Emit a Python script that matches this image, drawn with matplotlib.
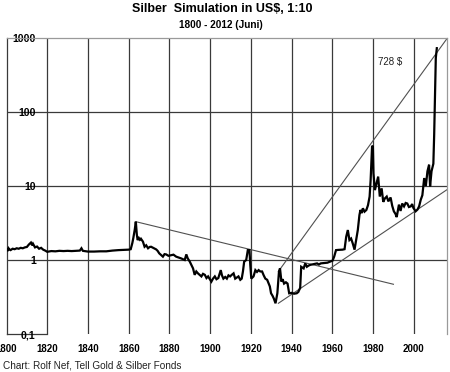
import matplotlib
matplotlib.use("Agg")
import matplotlib.pyplot as plt

plt.rcParams['font.family'] = ['Liberation Sans', 'DejaVu Sans']

# ---- data ----
years = [1800, 1800.5, 1801, 1801.5, 1802, 1803, 1804, 1805, 1806, 1807, 1808, 1809,
         1810, 1811, 1812, 1812.6, 1813, 1814, 1815, 1816, 1817, 1818, 1819, 1820,
         1822, 1824, 1826, 1828, 1830, 1832, 1834, 1836, 1836.8, 1837.5, 1840, 1843,
         1846, 1849, 1852, 1855, 1858, 1860, 1861, 1861.8, 1862.3, 1863, 1863.5,
         1864, 1864.4, 1865, 1865.5, 1866, 1867, 1867.8, 1868.6, 1869.5, 1870.3,
         1871, 1872.2, 1873.5, 1874.2, 1875, 1876.8, 1877.6, 1878.4, 1879.5, 1880.9,
         1882, 1883.3, 1884.5, 1885.8, 1887.5, 1888.3, 1889, 1890, 1891.6, 1892.4,
         1893.2, 1894, 1895.7, 1896.5, 1897.4, 1898.2, 1899, 1900.6, 1901.4, 1902.3,
         1903.1, 1904, 1905.2, 1905.8, 1906.5, 1907.4, 1908.2, 1909, 1909.8, 1910.6,
         1911.5, 1912.3, 1913.1, 1913.9, 1914.8, 1915.5, 1916.1, 1916.7, 1917.7,
         1918.5, 1919.3, 1919.7, 1920.2, 1921.3, 1922.2, 1923, 1923.8, 1924.6,
         1925.5, 1926.3, 1927.1, 1928, 1929.3, 1929.9, 1930.6, 1931.3, 1932.1, 1933,
         1933.8, 1934.3, 1935, 1935.6, 1936.3, 1937.2, 1938, 1938.8, 1940, 1941.2,
         1942.5, 1943.3, 1944.2, 1944.7, 1945.9, 1946.7, 1947.5, 1948.3, 1949.2,
         1950.9, 1952.5, 1953.4, 1954.3, 1956, 1957.6, 1960.1, 1960.9, 1961.8, 1963,
         1965, 1966, 1966.8, 1967.6, 1968.4, 1969.2, 1970, 1970.9, 1971.7, 1972.5,
         1973.3, 1973.8, 1974.4, 1975, 1975.8, 1976.7, 1977.5, 1978.3, 1978.8,
         1979.5, 1979.9, 1980.2, 1980.9, 1981.7, 1982.5, 1983.3, 1984.2, 1985,
         1985.8, 1986.7, 1987.5, 1988.6, 1989.4, 1990.2, 1991, 1991.6, 1992.7,
         1993.5, 1994.3, 1995.2, 1996, 1996.8, 1997.6, 1998.5, 1999.2, 1999.8,
         2000.9, 2001.8, 2002.6, 2003.4, 2004.2, 2005.1, 2005.9, 2006.7, 2007.5,
         2008, 2008.7, 2009.6, 2010, 2010.4, 2010.8, 2011.3]
prices = [1.40, 1.32, 1.44, 1.38, 1.36, 1.42, 1.40, 1.44, 1.42, 1.46, 1.44, 1.48,
          1.50, 1.62, 1.72, 1.58, 1.66, 1.48, 1.52, 1.42, 1.46, 1.38, 1.34, 1.29,
          1.32, 1.31, 1.33, 1.32, 1.33, 1.32, 1.33, 1.34, 1.44, 1.33, 1.30, 1.30,
          1.31, 1.31, 1.34, 1.36, 1.37, 1.38, 1.40, 1.70, 2.00, 2.6, 3.30,
          2.2, 1.86, 1.98, 1.88, 1.94, 1.77, 1.51, 1.58, 1.44, 1.50,
          1.51, 1.45, 1.39, 1.33, 1.23, 1.11, 1.20, 1.19, 1.14, 1.16,
          1.18, 1.11, 1.08, 1.05, 1.00, 1.19, 1.05, 0.95, 0.77, 0.63,
          0.70, 0.66, 0.60, 0.65, 0.63, 0.57, 0.60, 0.51, 0.56, 0.60,
          0.55, 0.57, 0.73, 0.62, 0.56, 0.59, 0.56, 0.62, 0.60, 0.63,
          0.66, 0.56, 0.58, 0.60, 0.54, 0.56, 0.70, 0.95, 1.00,
          1.36, 1.36, 0.86, 0.56, 0.60, 0.73, 0.69, 0.73, 0.70,
          0.70, 0.62, 0.56, 0.54, 0.44, 0.355, 0.33, 0.30, 0.26, 0.355,
          0.70, 0.77, 0.51, 0.55, 0.48, 0.50, 0.48, 0.355, 0.36, 0.35,
          0.355, 0.37, 0.42, 0.81, 0.77, 0.90, 0.81, 0.84, 0.86,
          0.88, 0.90, 0.87, 0.90, 0.91, 0.92, 0.98, 1.11, 1.36, 1.37,
          1.38, 1.40, 2.06, 2.54, 1.86, 1.95, 1.68, 1.38, 1.86, 2.54,
          4.05, 4.74, 4.3, 5.0, 4.5, 4.74, 5.5, 7.2, 12,
          34, 35, 14.8, 8.8, 10.9, 13.4, 7.2, 9.3, 6.1,
          6.8, 7.2, 6.2, 7.0, 5.4, 4.55, 4.2, 3.8, 5.6,
          4.6, 5.8, 5.3, 5.9, 5.8, 5.2, 5.3, 5.7, 5.05,
          4.55, 4.8, 5.3, 6.5, 7.5, 12.8, 10, 15.8, 19.4,
          9.9, 15.8, 20, 49, 171, 537, 728]

# trend lines (start/end points)
trend_down_x = [1864, 1990]
trend_down_y = [3.27, 0.47]
trend_steep_x = [1933.5, 2016.5]
trend_steep_y = [0.70, 1000]
trend_low_x = [1933.5, 2016.5]
trend_low_y = [0.26, 9.0]

x_ticks = [1800, 1820, 1840, 1860, 1880, 1900, 1920, 1940, 1960, 1980, 2000]
y_ticks = [0.1, 1, 10, 100, 1000]
y_labels = ["0,1", "1", "10", "100", "1000"]

title = "Silber  Simulation in US$, 1:10"
subtitle = "1800 - 2012 (Juni)"
footer = "Chart: Rolf Nef, Tell Gold & Silber Fonds"
peak_label = "728 $"

# ---- figure ----
fig = plt.figure(figsize=(4.5, 3.72), dpi=100)
fig.patch.set_facecolor('white')
ax = fig.add_axes([6.5/450, 1-334/372, (447-6.5)/450, (334-38)/372])
ax.set_yscale('log')
ax.set_xlim(1800, 2016.3)
ax.set_ylim(0.1, 1000)

gc = '#3a3a3a'
for xv in x_ticks[1:]:
    ax.axvline(xv, color=gc, lw=0.9, zorder=1)
for yv in y_ticks[1:-1]:
    ax.axhline(yv, color=gc, lw=0.9, zorder=1)
# short bottom segment at 0.1
ax.plot([1800, 1820], [0.1, 0.1], color=gc, lw=0.9, clip_on=False, zorder=1)

tc = '#505050'
ax.plot(trend_down_x, trend_down_y, color=tc, lw=0.8, zorder=2)
ax.plot(trend_steep_x, trend_steep_y, color=tc, lw=0.8, zorder=2)
ax.plot(trend_low_x, trend_low_y, color=tc, lw=0.8, zorder=2)

ax.plot(years, prices, color='black', lw=1.6, zorder=3, solid_joinstyle='miter')

ax.text(1982.4, 474, peak_label, fontsize=7, ha='left', va='center', color='#222222')

ax.spines['bottom'].set_visible(False)
ax.spines['left'].set_color(gc)
ax.spines['left'].set_linewidth(0.9)
ax.spines['top'].set_color('#9a9a9a')
ax.spines['top'].set_linewidth(0.9)
ax.spines['right'].set_color('#9a9a9a')
ax.spines['right'].set_linewidth(0.9)

ax.set_xticks(x_ticks)
ax.set_xticklabels([str(v) for v in x_ticks], fontsize=7, fontweight='bold')
ax.tick_params(axis='x', length=0, pad=7.3)
ax.set_yticks(y_ticks)
ax.set_yticklabels(y_labels, fontsize=7.6, fontweight='bold')
ax.yaxis.set_minor_locator(matplotlib.ticker.NullLocator())
ax.tick_params(axis='y', length=0, pad=-21)
for lab in ax.get_yticklabels():
    lab.set_zorder(5)

fig.text(222/450, 1-8.5/372, title, fontsize=9, fontweight='bold', ha='center', va='center')
fig.text(220.5/450, 1-25/372, subtitle, fontsize=7.2, fontweight='bold', ha='center', va='center')
fig.text(3/450, 1-366/372, footer, fontsize=7.2, ha='left', va='center', color='#222222')

fig.savefig('out.png', dpi=100, facecolor='white')
